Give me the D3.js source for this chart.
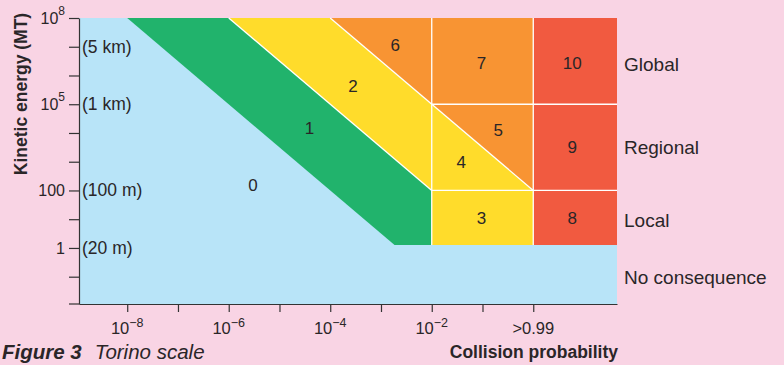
<!DOCTYPE html>
<html><head><meta charset="utf-8">
<script src="https://cdn.jsdelivr.net/npm/d3@7"></script>
<style>
html,body{margin:0;padding:0;background:#f9d4e4;}
svg{display:block;font-family:"Liberation Sans",Arial,sans-serif;}
</style></head>
<body>
<svg id="c" width="784" height="365"></svg>
<script>
// ---- data (log10 exponents) ----
const xTickExps   = [-8, -7, -6, -5, -4, -3, -2, -1, 0];
const xTickBase   = ["10", "", "10", "", "10", "", "10", "", ">0.99"];
const xTickSup    = ["−8", "", "−6", "", "−4", "", "−2", "", ""];
const yTickExps   = [8, 7, 6, 5, 4, 3, 2, 1, 0, -1];
const yTickBase   = ["10", "", "", "10", "", "", "100", "", "1", ""];
const yTickSup    = ["8", "", "", "5", "", "", "", "", "", ""];
const sizeExps    = [7, 5, 2, 0];
const sizeLabels  = ["(5 km)", "(1 km)", "(100 m)", "(20 m)"];
const xMin = -8.95, xMax = 1.65, yMin = -1.95, yMax = 8, colorFloor = 0.1;

const zoneNames  = ["1", "2", "6", "7", "10", "5", "4", "9", "3", "8"];
const zoneColors = ["#21b36c", "#ffdc2b", "#f89433", "#f89433", "#f15a40", "#f89433", "#ffdc2b", "#f15a40", "#ffdc2b", "#f15a40"];
const zonePolys  = [
  [[-8,8],[-6,8],[-2,2],[-2,colorFloor],[-2.733,colorFloor]],
  [[-6,8],[-4,8],[-2,5],[-2,2]],
  [[-4,8],[-2,8],[-2,5]],
  [[-2,8],[0,8],[0,5],[-2,5]],
  [[0,8],[xMax,8],[xMax,5],[0,5]],
  [[-2,5],[0,5],[0,2]],
  [[-2,5],[0,2],[-2,2]],
  [[0,5],[xMax,5],[xMax,2],[0,2]],
  [[-2,2],[0,2],[0,colorFloor],[-2,colorFloor]],
  [[0,2],[xMax,2],[xMax,colorFloor],[0,colorFloor]]
];
const labelNames = ["0", "1", "2", "6", "7", "10", "5", "4", "9", "3", "8"];
const labelX     = [-5.52, -4.41, -3.55, -2.72, -1.02, 0.77, -0.69, -1.42, 0.77, -1.02, 0.77];
const labelY     = [2.16, 4.14, 5.63, 7.06, 6.4, 6.4, 4.1, 2.96, 3.48, 1.04, 1.04];
const dividers = [
  [[-2,colorFloor],[-2,8]], [[0,colorFloor],[0,8]],
  [[-2,5],[xMax,5]], [[-2,2],[xMax,2]],
  [[-6,8],[-2,2]], [[-4,8],[0,2]]
];
const consequence     = ["Global", "Regional", "Local", "No consequence"];
const consequenceMid  = [6.37, 3.48, 0.97, -1.04];

// ---- drawing ----
const svg = d3.select("#c");
const ink = "#2a2628";
const x = d3.scaleLinear().domain([xMin, xMax]).range([79, 617]);
const y = d3.scaleLinear().domain([yMin, yMax]).range([304, 18]);

svg.append("rect").attr("width",784).attr("height",365).attr("fill","#f9d4e4");
svg.append("rect").attr("x",x(xMin)).attr("y",y(yMax))
  .attr("width",x(xMax)-x(xMin)).attr("height",y(yMin)-y(yMax)).attr("fill","#b8e4f8");

const line = d3.line().x(d=>x(d[0])).y(d=>y(d[1]));
svg.append("g").selectAll("path").data(zonePolys).join("path")
  .attr("d", d => line(d) + "Z")
  .attr("fill", (d,i) => zoneColors[i]);

svg.append("g").selectAll("path").data(dividers).join("path")
  .attr("d", line).attr("stroke","#fff").attr("stroke-width",1.3).attr("fill","none");

svg.append("g").selectAll("text").data(labelNames).join("text")
  .attr("x",(d,i)=>x(labelX[i])).attr("y",(d,i)=>y(labelY[i]))
  .attr("text-anchor","middle").attr("dominant-baseline","central")
  .attr("font-size",17).attr("fill",ink).text(d=>d);

// axes
const yAxis = d3.axisLeft(y).tickValues(yTickExps).tickSize(10).tickSizeOuter(0).tickFormat("");
const gy = svg.append("g").attr("transform",`translate(${x(xMin)},0)`).call(yAxis);
const xAxis = d3.axisBottom(x).tickValues(xTickExps).tickSize(8).tickSizeOuter(0).tickFormat("");
const gx = svg.append("g").attr("transform",`translate(0,${y(yMin)})`).call(xAxis);
[gx, gy].forEach(g => {
  g.selectAll("path,line").attr("stroke", "#333").attr("stroke-width",1.2);
});
svg.append("line").attr("x1",x(xMin)-10).attr("x2",x(xMin)).attr("y1",y(yMin)).attr("y2",y(yMin))
  .attr("stroke","#333").attr("stroke-width",1.2);

// y tick labels
yTickExps.forEach((e,i) => {
  if (!yTickBase[i]) return;
  const t = svg.append("text").attr("x", x(xMin) - 14).attr("y", y(e))
    .attr("text-anchor","end").attr("dominant-baseline","central")
    .attr("font-size",16).attr("fill",ink);
  t.append("tspan").text(yTickBase[i]);
  if (yTickSup[i]) t.append("tspan").attr("font-size",12).attr("dy",-7).text(yTickSup[i]);
});
// size labels
sizeExps.forEach((e,i) => {
  svg.append("text").attr("x", x(xMin) + 3).attr("y", y(e))
    .attr("dominant-baseline","central").attr("font-size",17.5).attr("fill",ink).text(sizeLabels[i]);
});
// x tick labels
xTickExps.forEach((e,i) => {
  if (!xTickBase[i]) return;
  const t = svg.append("text").attr("x", x(e)).attr("y", 334)
    .attr("text-anchor","middle").attr("font-size",16.5).attr("fill",ink);
  t.append("tspan").text(xTickBase[i]);
  if (xTickSup[i]) t.append("tspan").attr("font-size",12.5).attr("dy",-7).text(xTickSup[i]);
});

// consequence labels
consequence.forEach((c,i) => {
  svg.append("text").attr("x",624).attr("y",y(consequenceMid[i]))
    .attr("dominant-baseline","central").attr("font-size",19).attr("fill",ink).text(c);
});

// titles
svg.append("text").attr("transform","translate(21,94) rotate(-90)")
  .attr("text-anchor","middle").attr("dominant-baseline","central")
  .attr("font-size",17.5).attr("font-weight","bold").attr("fill",ink).text("Kinetic energy (MT)");
svg.append("text").attr("x",618).attr("y",358).attr("text-anchor","end")
  .attr("font-size",17.5).attr("font-weight","bold").attr("fill",ink).text("Collision probability");
const cap = svg.append("text").attr("x",2).attr("y",359).attr("font-size",20.5).attr("fill",ink).attr("font-style","italic");
cap.append("tspan").attr("font-weight","bold").text("Figure 3");
cap.append("tspan").attr("dx",13).attr("font-weight","300").text("Torino scale");
</script>
</body></html>
